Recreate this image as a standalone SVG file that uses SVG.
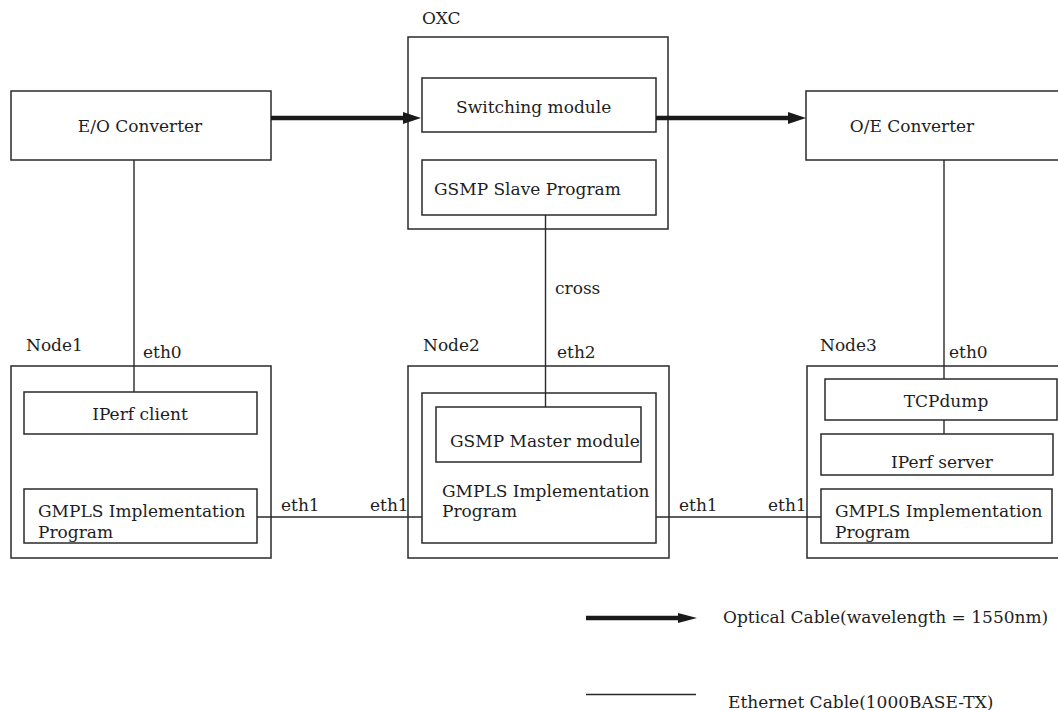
<svg xmlns="http://www.w3.org/2000/svg" width="1058" height="710" viewBox="0 0 1058 710">
  <style>
    .box { fill: #ffffff; stroke: #2a2a2a; stroke-width: 1.5; }
    .wire { fill: none; stroke: #2a2a2a; stroke-width: 1.4; }
    .fiber { fill: none; stroke: #1a1a1a; stroke-width: 4.5; }
    .head { fill: #1a1a1a; stroke: none; }
    text { font-family: "DejaVu Serif", "Liberation Serif", serif; font-size: 17px; fill: #1e1e1e; }
    .mid { text-anchor: middle; }
  </style>

  <rect width="1058" height="710" fill="#ffffff"/>

  <!-- optical cross-connect -->
  <g id="oxc">
    <text x="422" y="24">OXC</text>
    <rect class="box" x="408" y="37" width="260" height="192"/>
    <g id="switching-module">
      <rect class="box" x="422" y="78" width="234" height="54"/>
      <text x="456" y="113">Switching module</text>
    </g>
    <g id="gsmp-slave">
      <rect class="box" x="422" y="160" width="234" height="55"/>
      <text x="434" y="195">GSMP Slave Program</text>
    </g>
  </g>

  <g id="eo-converter">
    <rect class="box" x="11" y="91" width="260" height="69"/>
    <text class="mid" x="140" y="132">E/O Converter</text>
  </g>

  <g id="oe-converter">
    <rect class="box" x="806" y="91" width="262" height="69"/>
    <text class="mid" x="912" y="132">O/E Converter</text>
  </g>

  <g id="node1">
    <text x="26" y="351">Node1</text>
    <rect class="box" x="11" y="366" width="260" height="192"/>
    <g id="iperf-client">
      <rect class="box" x="24" y="392" width="233" height="42"/>
      <text class="mid" x="140" y="420">IPerf client</text>
    </g>
    <g id="gmpls-1">
      <rect class="box" x="24" y="489" width="233" height="54"/>
      <text x="38" y="517">GMPLS Implementation</text>
      <text x="38" y="538">Program</text>
    </g>
  </g>

  <g id="node2">
    <text x="423" y="351">Node2</text>
    <rect class="box" x="408" y="366" width="261" height="192"/>
    <g id="gmpls-2">
      <rect class="box" x="422" y="393" width="234" height="150"/>
      <text x="442" y="497">GMPLS Implementation</text>
      <text x="442" y="517">Program</text>
    </g>
    <g id="gsmp-master">
      <rect class="box" x="436" y="407" width="205" height="55"/>
      <text x="450" y="447">GSMP Master module</text>
    </g>
  </g>

  <g id="node3">
    <text x="820" y="351">Node3</text>
    <rect class="box" x="807" y="366" width="262" height="192"/>
    <g id="tcpdump">
      <rect class="box" x="825" y="379" width="232" height="41"/>
      <text class="mid" x="946" y="407">TCPdump</text>
    </g>
    <g id="iperf-server">
      <rect class="box" x="821" y="434" width="232" height="41"/>
      <text class="mid" x="942" y="468">IPerf server</text>
    </g>
    <g id="gmpls-3">
      <rect class="box" x="821" y="489" width="231" height="54"/>
      <text x="835" y="517">GMPLS Implementation</text>
      <text x="835" y="538">Program</text>
    </g>
  </g>

  <!-- cables -->
  <g id="connectors">
    <!-- optical path -->
    <line class="fiber" x1="271" y1="118" x2="405" y2="118"/>
    <polygon class="head" points="403,112 421,118 403,124"/>
    <line class="fiber" x1="656" y1="118" x2="790" y2="118"/>
    <polygon class="head" points="788,112 806,118 788,124"/>

    <!-- ethernet links -->
    <line class="wire" x1="134" y1="160" x2="134" y2="392"/>
    <line class="wire" x1="545.5" y1="215" x2="545.5" y2="407"/>
    <line class="wire" x1="944" y1="160" x2="944" y2="379"/>
    <line class="wire" x1="944" y1="420" x2="944" y2="434"/>
    <line class="wire" x1="257" y1="517" x2="422" y2="517"/>
    <line class="wire" x1="656" y1="517" x2="821" y2="517"/>

    <text x="555" y="294">cross</text>
    <text x="143" y="358">eth0</text>
    <text x="557" y="358">eth2</text>
    <text x="949" y="358">eth0</text>
    <text x="281" y="511">eth1</text>
    <text x="370" y="511">eth1</text>
    <text x="679" y="511">eth1</text>
    <text x="768" y="511">eth1</text>
  </g>

  <!-- legend -->
  <g id="legend">
    <line class="fiber" x1="586" y1="618" x2="680" y2="618"/>
    <polygon class="head" points="678,613 697,618 678,623"/>
    <text x="723" y="623">Optical Cable(wavelength = 1550nm)</text>
    <line class="wire" x1="586" y1="694.5" x2="696" y2="694.5"/>
    <text x="728" y="708">Ethernet Cable(1000BASE-TX)</text>
  </g>
</svg>
